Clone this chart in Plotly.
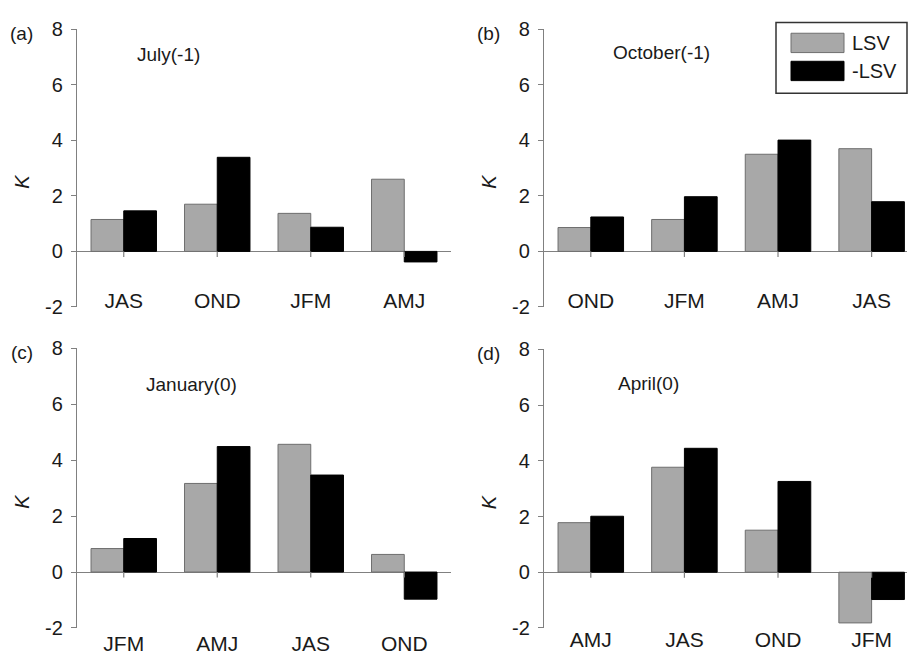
import plotly.graph_objects as go

W, H = 908, 666

# ---------------- data ----------------
panel_letters = ["(a)", "(b)", "(c)", "(d)"]
panel_titles = ["July(-1)", "October(-1)", "January(0)", "April(0)"]

seasons_a = ["JAS", "OND", "JFM", "AMJ"]
seasons_b = ["OND", "JFM", "AMJ", "JAS"]
seasons_c = ["JFM", "AMJ", "JAS", "OND"]
seasons_d = ["AMJ", "JAS", "OND", "JFM"]

lsv_a = [1.15, 1.70, 1.37, 2.60]
neg_lsv_a = [1.46, 3.39, 0.87, -0.38]
lsv_b = [0.86, 1.15, 3.50, 3.70]
neg_lsv_b = [1.24, 1.97, 4.01, 1.79]
lsv_c = [0.84, 3.17, 4.57, 0.63]
neg_lsv_c = [1.20, 4.49, 3.47, -0.97]
lsv_d = [1.78, 3.77, 1.51, -1.82]
neg_lsv_d = [2.01, 4.45, 3.26, -0.98]

series_names = ["LSV", "-LSV"]
y_ticks = [-2, 0, 2, 4, 6, 8]
y_tick_labels = ["-2", "0", "2", "4", "6", "8"]
y_label = "K"

seasons = [seasons_a, seasons_b, seasons_c, seasons_d]
lsv = [lsv_a, lsv_b, lsv_c, lsv_d]
neg_lsv = [neg_lsv_a, neg_lsv_b, neg_lsv_c, neg_lsv_d]

# ---------------- styling ----------------
FONT = "Arial, Liberation Sans, sans-serif"
TXT = "#1a1a1a"
AX = "#808080"
GRAY = "#a8a8a8"
BLACK = "#000000"


def px_x(p):
    return p / W


def px_y(p):
    return 1 - p / H


# pixel boxes of each plot area: (left, right, top, bottom)
boxes = [(77, 451, 19, 306), (544, 907, 19, 306), (77, 451, 349, 638), (544, 907, 350, 638)]
x_ranges = [[-0.5, 3.5], [-0.5, 3.378], [-0.5, 3.5], [-0.5, 3.378]]
label_standoff = [-21, -21, 1, -3]

fig = go.Figure()
layout = dict(
    width=W, height=H, margin=dict(l=0, r=0, t=0, b=0),
    paper_bgcolor="white", plot_bgcolor="white",
    showlegend=False, bargap=0.3, bargroupgap=0.0, barmode="group",
    font=dict(family=FONT, color=TXT, size=20),
)
annotations = []
shapes = []

for i in range(4):
    xa = "x" if i == 0 else f"x{i+1}"
    ya = "y" if i == 0 else f"y{i+1}"
    l, r, t, b = boxes[i]
    fig.add_trace(go.Bar(x=list(range(4)), y=lsv[i], name=series_names[0], xaxis=xa, yaxis=ya,
                         marker=dict(color=GRAY, line=dict(color="#6e6e6e", width=1)), offsetgroup="a"))
    fig.add_trace(go.Bar(x=list(range(4)), y=neg_lsv[i], name=series_names[1], xaxis=xa, yaxis=ya,
                         marker=dict(color=BLACK, line=dict(color=BLACK, width=1)), offsetgroup="b"))
    xkey = "xaxis" if i == 0 else f"xaxis{i+1}"
    ykey = "yaxis" if i == 0 else f"yaxis{i+1}"
    layout[xkey] = dict(
        domain=[px_x(l), min(1.0, px_x(r))], anchor=ya, range=x_ranges[i],
        tickmode="array", tickvals=list(range(4)), ticktext=seasons[i],
        showline=False, showgrid=False, zeroline=False, ticks="",
        tickfont=dict(size=21, color=TXT, family=FONT),
        ticklabelstandoff=label_standoff[i],
    )
    layout[ykey] = dict(
        domain=[px_y(b), px_y(t)], anchor=xa, range=[-2, 8],
        tickmode="array", tickvals=y_ticks, ticktext=y_tick_labels,
        showline=True, linecolor=AX, linewidth=1.2,
        ticks="outside", ticklen=5, tickcolor=AX, tickwidth=1.2,
        showgrid=False, zeroline=True, zerolinecolor=AX, zerolinewidth=1.2,
        tickfont=dict(size=20, color=TXT, family=FONT),
        ticklabelstandoff=4,
    )
    # small ticks on zero line at category centres
    for k in range(4):
        shapes.append(dict(type="line", xref=xa, yref=ya, x0=k, x1=k, y0=0, y1=-0.2,
                           line=dict(color=AX, width=1.2)))
    # panel letter
    annotations.append(dict(text=panel_letters[i], xref="paper", yref="paper",
                            x=px_x(l - 42), y=px_y(t + 4), xanchor="right", yanchor="middle",
                            showarrow=False, font=dict(size=19, color=TXT, family=FONT)))
    # K axis label
    annotations.append(dict(text="<i>" + y_label + "</i>", xref="paper", yref="paper",
                            x=px_x(l - 55), y=px_y((t + b) / 2 + 14), xanchor="center", yanchor="middle",
                            textangle=-90, showarrow=False, font=dict(size=20, color=TXT, family=FONT)))

# panel titles
title_pos = [(168, 45), (661, 43), (191, 386), (648, 385)]
for i in range(4):
    annotations.append(dict(text=panel_titles[i], xref="paper", yref="paper",
                            x=px_x(title_pos[i][0]), y=px_y(title_pos[i][1]),
                            xanchor="center", yanchor="middle", showarrow=False,
                            font=dict(size=19, color=TXT, family=FONT)))

# manual legend (large swatches)
shapes.append(dict(type="rect", xref="paper", yref="paper", x0=px_x(776), x1=px_x(907),
                   y0=px_y(85), y1=px_y(12), line=dict(color="#333333", width=1.5), fillcolor="white"))
shapes.append(dict(type="rect", xref="paper", yref="paper", x0=px_x(791), x1=px_x(844),
                   y0=px_y(43), y1=px_y(23), line=dict(color="#6e6e6e", width=1), fillcolor=GRAY))
shapes.append(dict(type="rect", xref="paper", yref="paper", x0=px_x(791), x1=px_x(844),
                   y0=px_y(72), y1=px_y(52), line=dict(color=BLACK, width=1), fillcolor=BLACK))
annotations.append(dict(text=series_names[0], xref="paper", yref="paper", x=px_x(850), y=px_y(33),
                        xanchor="left", yanchor="middle", showarrow=False,
                        font=dict(size=20, color=TXT, family=FONT)))
annotations.append(dict(text=series_names[1], xref="paper", yref="paper", x=px_x(850), y=px_y(62),
                        xanchor="left", yanchor="middle", showarrow=False,
                        font=dict(size=20, color=TXT, family=FONT)))

layout["annotations"] = annotations
layout["shapes"] = shapes
fig.update_layout(**layout)
fig.write_html(
    "out.html",
    config={"displayModeBar": False},
    post_script="document.body.style.margin='0';document.body.style.overflow='hidden';",
)
